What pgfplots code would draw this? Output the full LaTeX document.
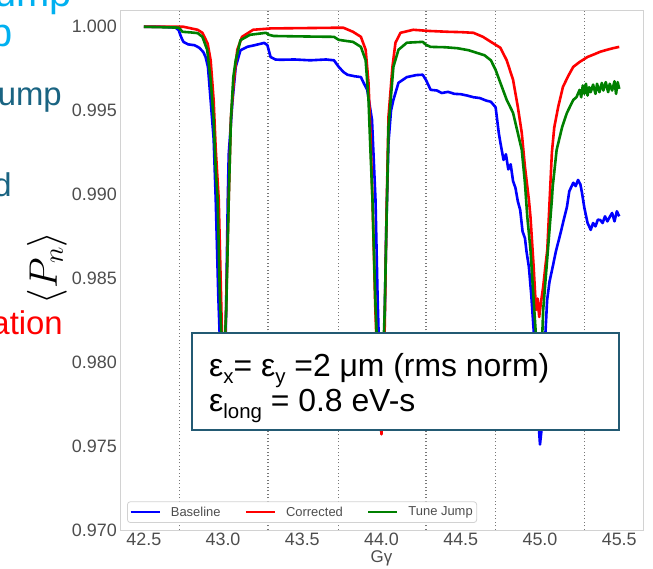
\RequirePackage{fix-cm}
\documentclass[border=0pt]{standalone}
\usepackage{fontspec}
\setmainfont{Liberation Sans}
\usepackage{pgfplots}
\pgfplotsset{compat=1.18}
\definecolor{tickc}{RGB}{77,77,77}
\definecolor{framec}{RGB}{210,210,210}
\definecolor{boxc}{RGB}{35,90,115}
\definecolor{cyanslide}{RGB}{0,176,240}
\definecolor{tealslide}{RGB}{26,100,130}
\definecolor{mplgreen}{RGB}{0,128,0}
\definecolor{gridc}{RGB}{120,120,120}
\newcommand\sub[1]{\raisebox{-0.2em}{\fontsize{20.5}{20.5}\selectfont #1}}
\begin{document}
\begin{tikzpicture}[x=1bp,y=1bp]
\useasboundingbox (0,0) rectangle (653,569);
\clip (0,0) rectangle (653,569);
% fragments of slide text cut by the left edge
\node[anchor=base east, inner sep=0, text=cyanslide, font=\fontsize{40}{40}\selectfont] at (72,562) {Tune Jump};
\node[anchor=base east, inner sep=0, text=cyanslide, font=\fontsize{40}{40}\selectfont] at (13,522) {p};
\node[anchor=base east, inner sep=0, text=tealslide, font=\fontsize{33}{33}\selectfont] at (62,463) {Tune Jump};
\node[anchor=base east, inner sep=0, text=tealslide, font=\fontsize{33}{33}\selectfont] at (12,372) {Corrected};
\node[anchor=base east, inner sep=0, text=red, font=\fontsize{33}{33}\selectfont] at (63,234) {Polarization};
\begin{axis}[
  at={(120bp,39bp)}, anchor=south west,
  scale only axis, width=523bp, height=520bp,
  xmin=42.35, xmax=45.65, ymin=0.970, ymax=1.001,
  axis line style={draw=framec, line width=0.8bp},
  xtick={42.5,43.0,43.5,44.0,44.5,45.0,45.5},
  ytick={0.970,0.975,0.980,0.985,0.990,0.995,1.000},
  major tick length=0pt,
  /pgf/number format/assume math mode=true,
  xticklabel style={font=\fontsize{18}{20}\selectfont, text=tickc, inner sep=0pt, yshift=-3bp,
    /pgf/number format/.cd, fixed, fixed zerofill, precision=1},
  yticklabel style={font=\fontsize{18}{20}\selectfont, text=tickc, inner sep=0pt, xshift=-3bp,
    /pgf/number format/.cd, fixed, fixed zerofill, precision=3},
  extra x ticks={42.725,43.285,43.73,44.28,44.72,45.28},
  extra x tick labels={},
  extra x tick style={grid=major, major grid style={draw=gridc, line width=1.5bp, dash pattern=on 1.3bp off 2.2bp}},
  xlabel={Gγ},
  xlabel style={font=\fontsize{17}{17}\selectfont, text=tickc, at={(axis description cs:0.5,-0.0538)}, anchor=center},
  ylabel={$\langle P_n\rangle$},
  ylabel style={font=\fontsize{40}{40}\selectfont, at={(axis description cs:-0.1396,0.5038)}, anchor=center},
  legend columns=3,
  legend cell align=left,
  legend image code/.code={\draw[#1, line width=2.5bp] (0bp,0bp) -- (29bp,0bp);},
  legend style={at={(axis description cs:0.0134,0.0135)}, anchor=south west,
    font=\fontsize{13}{15}\selectfont, text=tickc,
    draw=framec, line width=0.8bp, rounded corners=3bp, fill=white,
    inner xsep=2bp, inner ysep=3bp,
    /tikz/every odd column/.append style={column sep=8bp},
    /tikz/every even column/.append style={column sep=22bp}},
]
\addplot[blue, line width=2.6bp, line join=round] coordinates {
(42.50,1.0000) (42.60,1.0000) (42.70,0.99995) (42.72,0.9998) (42.735,0.9994) (42.75,0.9991) (42.78,0.99895) (42.82,0.9989) (42.85,0.99875) (42.875,0.9985) (42.89,0.9982) (42.905,0.9976) (42.922,0.9956) (42.941,0.9933) (42.954,0.9897) (42.97,0.9840) (42.985,0.9800) (43.00,0.9785) (43.015,0.9805) (43.03,0.9897) (43.036,0.9924) (43.06,0.9956) (43.08,0.9976) (43.11,0.9986) (43.155,0.99881) (43.20,0.9989) (43.26,0.99904) (43.28,0.9989) (43.30,0.9982) (43.33,0.99805) (43.36,0.99803) (43.45,0.99805) (43.55,0.99800) (43.65,0.99805) (43.70,0.9980) (43.73,0.99761) (43.76,0.9973) (43.785,0.99714) (43.83,0.99705) (43.87,0.9970) (43.89,0.9966) (43.91,0.99624) (43.94,0.99445) (43.962,0.9897) (43.975,0.9840) (43.99,0.9790) (44.00,0.9775) (44.015,0.9800) (44.03,0.9880) (44.044,0.9931) (44.06,0.9950) (44.075,0.99564) (44.107,0.99666) (44.16,0.9970) (44.22,0.99712) (44.26,0.99714) (44.28,0.99684) (44.31,0.99624) (44.35,0.9962) (44.38,0.99605) (44.42,0.99612) (44.46,0.9960) (44.50,0.99598) (44.54,0.9959) (44.58,0.9958) (44.62,0.99575) (44.66,0.9956) (44.69,0.99553) (44.72,0.9952) (44.74,0.99367) (44.75,0.9931) (44.77,0.99206) (44.785,0.9924) (44.80,0.9915) (44.815,0.9918) (44.83,0.9908) (44.845,0.9904) (44.86,0.9896) (44.875,0.98908) (44.89,0.9878) (44.905,0.9874) (44.915,0.9866) (44.93,0.98568) (44.945,0.9840) (44.96,0.98192) (44.975,0.9795) (44.99,0.9765) (45.00,0.9751) (45.01,0.9760) (45.025,0.9800) (45.045,0.98371) (45.06,0.9848) (45.08,0.98568) (45.10,0.9866) (45.13,0.98771) (45.15,0.9885) (45.17,0.98926) (45.185,0.9902) (45.21,0.9907) (45.225,0.9905) (45.24,0.99087) (45.255,0.9906) (45.265,0.9901) (45.28,0.9892) (45.30,0.98831) (45.32,0.98789) (45.335,0.9883) (45.35,0.9881) (45.365,0.9885) (45.38,0.98848) (45.395,0.9883) (45.41,0.9887) (45.425,0.9884) (45.44,0.98866) (45.455,0.9889) (45.47,0.9884) (45.485,0.9890) (45.50,0.9887)
};
\addlegendentry{Baseline}
\addplot[red, line width=2.6bp, line join=round] coordinates {
(42.50,1.0000) (42.75,1.0000) (42.84,0.99982) (42.87,0.99964) (42.903,0.9990) (42.922,0.9980) (42.941,0.9956) (42.954,0.9927) (42.973,0.9897) (42.99,0.9830) (43.00,0.9785) (43.015,0.9815) (43.036,0.9897) (43.05,0.9946) (43.067,0.99666) (43.09,0.99863) (43.12,0.9994) (43.19,0.99982) (43.30,0.9999) (43.50,0.99992) (43.70,0.99994) (43.76,0.99994) (43.82,0.9997) (43.87,0.9994) (43.90,0.99863) (43.918,0.99666) (43.93,0.9937) (43.943,0.9897) (43.96,0.9835) (43.98,0.9780) (44.00,0.9757) (44.015,0.9790) (44.03,0.9880) (44.044,0.99463) (44.069,0.99761) (44.088,0.99905) (44.12,0.99964) (44.20,0.99982) (44.30,0.99975) (44.42,0.9997) (44.50,0.99968) (44.58,0.99964) (44.64,0.9994) (44.69,0.9991) (44.75,0.99875) (44.79,0.9980) (44.83,0.99684) (44.86,0.99523) (44.885,0.99367) (44.905,0.99165) (44.93,0.98968) (44.94,0.98866) (44.96,0.98568) (44.975,0.98311) (44.985,0.9838) (44.995,0.9827) (45.005,0.9835) (45.02,0.98449) (45.035,0.9858) (45.046,0.9867) (45.055,0.9885) (45.065,0.9905) (45.075,0.9925) (45.09,0.9940) (45.115,0.99523) (45.145,0.99642) (45.18,0.9971) (45.21,0.99761) (45.25,0.9979) (45.30,0.9982) (45.34,0.99835) (45.38,0.99851) (45.42,0.99862) (45.46,0.99872) (45.50,0.9988)
};
\addlegendentry{Corrected}
\addplot[mplgreen, line width=2.6bp, line join=round] coordinates {
(42.50,1.0000) (42.72,0.99995) (42.735,0.9998) (42.745,0.9997) (42.80,0.99966) (42.84,0.99962) (42.87,0.9994) (42.90,0.99863) (42.922,0.99684) (42.941,0.99445) (42.954,0.99147) (42.966,0.9897) (42.98,0.9840) (43.00,0.9790) (43.02,0.9830) (43.036,0.9897) (43.05,0.9945) (43.065,0.9970) (43.08,0.9980) (43.11,0.9992) (43.17,0.99952) (43.27,0.99964) (43.29,0.99952) (43.32,0.99945) (43.45,0.99943) (43.60,0.99941) (43.70,0.9994) (43.73,0.99922) (43.78,0.99915) (43.82,0.9991) (43.87,0.9988) (43.90,0.9980) (43.918,0.99564) (43.93,0.99266) (43.943,0.9897) (43.96,0.9840) (43.98,0.9790) (44.00,0.9775) (44.02,0.9830) (44.044,0.99403) (44.075,0.99761) (44.107,0.99863) (44.16,0.99905) (44.26,0.9991) (44.28,0.99893) (44.31,0.9988) (44.40,0.99878) (44.48,0.99872) (44.55,0.9986) (44.60,0.99845) (44.65,0.9983) (44.69,0.9980) (44.72,0.99743) (44.75,0.99666) (44.79,0.99564) (44.83,0.99487) (44.86,0.99367) (44.885,0.99266) (44.905,0.99069) (44.92,0.98866) (44.94,0.9867) (44.96,0.98371) (44.975,0.9815) (44.99,0.9800) (45.00,0.9795) (45.01,0.9805) (45.02,0.98311) (45.05,0.9867) (45.075,0.9897) (45.08,0.99045) (45.105,0.99266) (45.14,0.99403) (45.17,0.99487) (45.21,0.99564) (45.23,0.9958) (45.25,0.99624) (45.26,0.9958) (45.27,0.9965) (45.28,0.9960) (45.29,0.9966) (45.30,0.9959) (45.31,0.9964) (45.32,0.9961) (45.335,0.99655) (45.35,0.9960) (45.36,0.9966) (45.375,0.9961) (45.39,0.99665) (45.40,0.9962) (45.415,0.9967) (45.43,0.9961) (45.44,0.9966) (45.455,0.9962) (45.47,0.99675) (45.48,0.9960) (45.49,0.9967) (45.50,0.9963)
};
\addlegendentry{Tune Jump}
\end{axis}
% annotation box drawn over the plot
\draw[fill=white, draw=boxc, line width=1.5bp] (192,139) rectangle (619,236);
\node[anchor=base west, inner sep=0, font=\fontsize{32}{32}\selectfont] at (209,192) {ε\sub{x}= ε\sub{y} =2 μm (rms norm)};
\node[anchor=base west, inner sep=0, font=\fontsize{32}{32}\selectfont] at (209,157) {ε\sub{long} = 0.8 eV-s};
\end{tikzpicture}
\end{document}
